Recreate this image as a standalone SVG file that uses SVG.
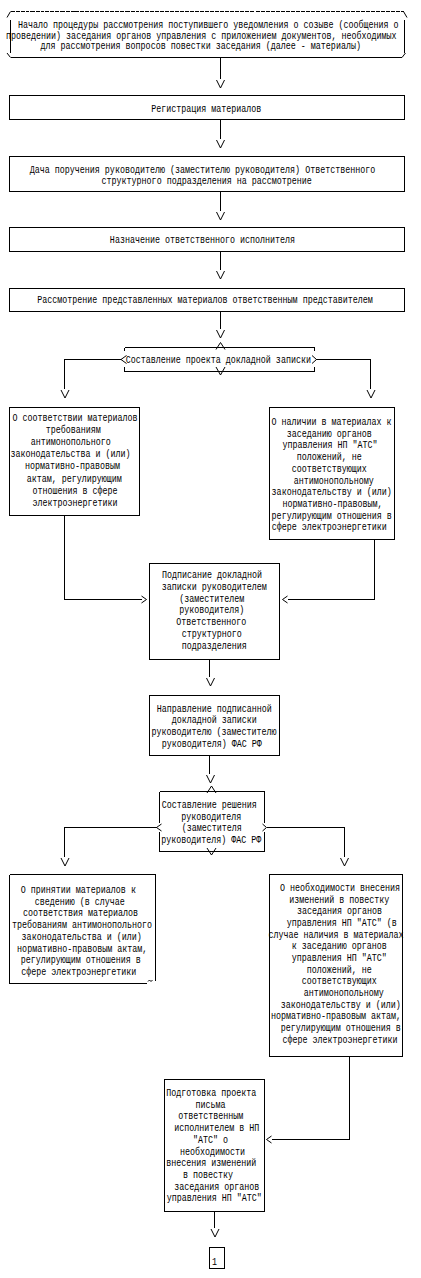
<svg xmlns="http://www.w3.org/2000/svg" width="421" height="1278" viewBox="0 0 421 1278">
<style>
.ln{fill:none;stroke:#000;stroke-width:1;shape-rendering:crispEdges}
.ar{fill:none;stroke:#000;stroke-width:1}
.bx{fill:#fff;stroke:#000;stroke-width:1;shape-rendering:crispEdges}
text{font-family:"Liberation Mono","DejaVu Sans Mono",monospace;font-size:11px;fill:#000;text-anchor:middle}
</style>
<rect width="421" height="1278" fill="#fff"/>
<g id="connectors">
<path class="ln" d="M220.5,57.5V79M220.5,119.5V139M220.5,191.5V211M220.5,251.5V270M220.5,311.5V329"/>
<path class="ln" d="M121,359.5H64.5V389M316,359.5H370.5V389"/>
<path class="ln" d="M64.5,515.5V599.5H141.5M374.5,539.5V599.5H287.5"/>
<path class="ln" d="M209.5,659.5V677M209.5,755.5V774"/>
<path class="ln" d="M156.5,827.5H64.5V857M267,827.5H344.5V857"/>
<path class="ln" d="M349.5,1056.5V1139.5H271.5M214.5,1211.5V1228"/>
<path class="ar" d="M216.5,80L220.5,88L224.5,80M216.5,140L220.5,148L224.5,140M216.5,212L220.5,220L224.5,212M216.5,271L220.5,279L224.5,271M216.5,330L220.5,338L224.5,330"/>
<path class="ar" d="M61,390L65,398L69,390M367,390L371,398L375,390"/>
<path class="ar" d="M141.5,596L146.5,599.5L141.5,603M287.5,596L282.5,599.5L287.5,603"/>
<path class="ar" d="M206.5,678L210.5,686L214.5,678M206.5,775L210.5,783L214.5,775"/>
<path class="ar" d="M61,858L65,866L69,858M340.5,858L344.5,866L348.5,858"/>
<path class="ar" d="M271.5,1136L266.5,1139.5L271.5,1143M211,1229L215,1237L219,1229"/>
</g>
<g id="start">
<path class="ln" d="M10.5,11.5H404" stroke-dasharray="4 1"/>
<path class="ln" d="M10.5,20V53M404.5,20V53M10.5,57.5H402"/>
<path class="ar" d="M7,17.5L10.5,11.5M403.5,11.5L407,17.5M7,53L10.5,57.5M402,57.5L405.5,53"/>
<text transform="matrix(.76 0 0 1 208.3 28.3)">Начало процедуры рассмотрения поступившего уведомления о созыве (сообщения о</text>
<text transform="matrix(.76 0 0 1 201.3 38.8)">проведении) заседания органов управления с приложением документов, необходимых</text>
<text transform="matrix(.76 0 0 1 200.7 49.3)">для рассмотрения вопросов повестки заседания (далее - материалы)</text>
</g>
<g id="reg">
<rect class="bx" x="9.5" y="95.5" width="395" height="24"/>
<text transform="matrix(.76 0 0 1 206.2 112)">Регистрация материалов</text>
</g>
<g id="assign">
<rect class="bx" x="9.5" y="156.5" width="395" height="35"/>
<text transform="matrix(.76 0 0 1 202.5 173.3)">Дача поручения руководителю (заместителю руководителя) Ответственного</text>
<text transform="matrix(.76 0 0 1 206.7 184)">структурного подразделения на рассмотрение</text>
</g>
<g id="appoint">
<rect class="bx" x="9.5" y="227.5" width="395" height="24"/>
<text transform="matrix(.76 0 0 1 202.5 243.3)">Назначение ответственного исполнителя</text>
</g>
<g id="review">
<rect class="bx" x="9.5" y="288.5" width="395" height="23"/>
<text transform="matrix(.76 0 0 1 205 303.3)">Рассмотрение представленных материалов ответственным представителем</text>
</g>
<g id="draft">
<path class="ln" d="M124.5,347.5H314.5M124.5,371.5H314.5M124.5,347.5V351M124.5,367V371.5M314.5,347.5V351M314.5,367V371.5"/>
<path class="ar" d="M216,349.5L220.5,342.5L225,349.5M216,367L220.5,375L225,367M126.5,355.5L121,359.5L126.5,363.5M312,355.5L316.5,359.5L312,363.5"/>
<text transform="matrix(.76 0 0 1 218.3 362.7)">Составление проекта докладной записки</text>
</g>
<g id="conform">
<rect class="bx" x="9.5" y="407.5" width="130" height="108"/>
<text transform="matrix(.76 0 0 1 75 421)">О соответствии материалов</text>
<text transform="matrix(.76 0 0 1 73.3 433.1)">требованиям</text>
<text transform="matrix(.76 0 0 1 70.8 445.2)">антимонопольного</text>
<text transform="matrix(.76 0 0 1 70.5 457.3)">законодательства и (или)</text>
<text transform="matrix(.76 0 0 1 72.5 469.4)">нормативно-правовым</text>
<text transform="matrix(.76 0 0 1 74.2 481.5)">актам, регулирующим</text>
<text transform="matrix(.76 0 0 1 75 493.6)">отношения в сфере</text>
<text transform="matrix(.76 0 0 1 75 505.7)">электроэнергетики</text>
</g>
<g id="nonconform">
<rect class="bx" x="269.5" y="407.5" width="125" height="132"/>
<text transform="matrix(.76 0 0 1 331.5 425)">О наличии в материалах к</text>
<text transform="matrix(.76 0 0 1 329.2 436.7)">заседанию органов</text>
<text transform="matrix(.76 0 0 1 330 448.4)">управления НП "АТС"</text>
<text transform="matrix(.76 0 0 1 329.2 460.1)">положений, не</text>
<text transform="matrix(.76 0 0 1 329.2 471.8)">соответствующих</text>
<text transform="matrix(.76 0 0 1 333.8 483.5)">антимонопольному</text>
<text transform="matrix(.76 0 0 1 331.7 495.2)">законодательству и (или)</text>
<text transform="matrix(.76 0 0 1 332.5 506.9)">нормативно-правовым,</text>
<text transform="matrix(.76 0 0 1 331.7 518.6)">регулирующим отношения в</text>
<text transform="matrix(.76 0 0 1 329.2 530.3)">сфере электроэнергетики</text>
</g>
<g id="sign">
<rect class="bx" x="149.5" y="563.5" width="130" height="96"/>
<text transform="matrix(.76 0 0 1 212 578)">Подписание докладной</text>
<text transform="matrix(.76 0 0 1 214.2 589.8)">записки руководителем</text>
<text transform="matrix(.76 0 0 1 211.7 601.6)">(заместителем</text>
<text transform="matrix(.76 0 0 1 211.7 613.4)">руководителя)</text>
<text transform="matrix(.76 0 0 1 211.3 625.2)">Ответственного</text>
<text transform="matrix(.76 0 0 1 211.7 637)">структурного</text>
<text transform="matrix(.76 0 0 1 214.2 648.8)">подразделения</text>
</g>
<g id="send">
<rect class="bx" x="149.5" y="695.5" width="130" height="60"/>
<text transform="matrix(.76 0 0 1 214.2 711.7)">Направление подписанной</text>
<text transform="matrix(.76 0 0 1 214.2 723.4)">докладной записки</text>
<text transform="matrix(.76 0 0 1 214 735.1)">руководителю (заместителю</text>
<text transform="matrix(.76 0 0 1 211.7 746.8)">руководителя) ФАС РФ</text>
</g>
<g id="decision">
<path class="ln" d="M159.5,791.5H264.5M159.5,851.5H264.5M159.5,791.5V823M159.5,832V851.5M264.5,791.5V823M264.5,832V851.5"/>
<path class="ar" d="M207,793L211.5,786L216,793M207,848L211.5,855L216,848M161.5,824L156.5,827.5L161.5,831M262.5,824L266.5,827.5L262.5,831"/>
<text transform="matrix(.76 0 0 1 209.2 808.3)">Составление решения</text>
<text transform="matrix(.76 0 0 1 211.3 819.8)">руководителя</text>
<text transform="matrix(.76 0 0 1 211.7 831.3)">(заместителя</text>
<text transform="matrix(.76 0 0 1 211.3 842.8)">руководителя) ФАС РФ</text>
</g>
<g id="accept">
<path class="ln" d="M9.5,874.5H155.5V981M9.5,874.5V983.5H147"/>
<path class="ar" d="M148,981.5L149.5,980L151,981.5L152.5,980"/>
<text transform="matrix(.76 0 0 1 78.3 892.7)">О принятии материалов к</text>
<text transform="matrix(.76 0 0 1 79.7 904.5)">сведению (в случае</text>
<text transform="matrix(.76 0 0 1 80.5 916.2)">соответствия материалов</text>
<text transform="matrix(.76 0 0 1 82 928)">требованиям антимонопольного</text>
<text transform="matrix(.76 0 0 1 81.7 939.7)">законодательства и (или)</text>
<text transform="matrix(.76 0 0 1 82.2 951.5)">нормативно-правовым актам,</text>
<text transform="matrix(.76 0 0 1 80.8 963.3)">регулирующим отношения в</text>
<text transform="matrix(.76 0 0 1 78.7 975)">сфере электроэнергетики</text>
</g>
<g id="changes">
<rect class="bx" x="269.5" y="874.5" width="133" height="182"/>
<text transform="matrix(.76 0 0 1 340 891)">О необходимости внесения</text>
<text transform="matrix(.76 0 0 1 339.2 902.7)">изменений в повестку</text>
<text transform="matrix(.76 0 0 1 339.5 914.3)">заседания органов</text>
<text transform="matrix(.76 0 0 1 341.7 926)">управления НП "АТС" (в</text>
<text transform="matrix(.76 0 0 1 336 937.7)">случае наличия в материалах</text>
<text transform="matrix(.76 0 0 1 339.2 949.4)">к заседанию органов</text>
<text transform="matrix(.76 0 0 1 339.2 961)">управления НП "АТС"</text>
<text transform="matrix(.76 0 0 1 339.2 972.7)">положений, не</text>
<text transform="matrix(.76 0 0 1 339.2 984.4)">соответствующих</text>
<text transform="matrix(.76 0 0 1 343.8 996)">антимонопольному</text>
<text transform="matrix(.76 0 0 1 340.8 1007.7)">законодательству и (или)</text>
<text transform="matrix(.76 0 0 1 336 1019.4)">нормативно-правовым актам,</text>
<text transform="matrix(.76 0 0 1 340.8 1031)">регулирующим отношения в</text>
<text transform="matrix(.76 0 0 1 340 1042.7)">сфере электроэнергетики</text>
</g>
<g id="letter">
<rect class="bx" x="164.5" y="1079.5" width="100" height="132"/>
<text transform="matrix(.76 0 0 1 211.3 1096)">Подготовка проекта</text>
<text transform="matrix(.76 0 0 1 210.5 1107.7)">письма</text>
<text transform="matrix(.76 0 0 1 210.8 1119.4)">ответственным</text>
<text transform="matrix(.76 0 0 1 216.7 1131.1)">исполнителем в НП</text>
<text transform="matrix(.76 0 0 1 210.5 1142.8)">"АТС" о</text>
<text transform="matrix(.76 0 0 1 212.5 1154.5)">необходимости</text>
<text transform="matrix(.76 0 0 1 211.2 1166.2)">внесения изменений</text>
<text transform="matrix(.76 0 0 1 208 1177.9)">в повестку</text>
<text transform="matrix(.76 0 0 1 216.7 1189.6)">заседания органов</text>
<text transform="matrix(.76 0 0 1 214.2 1201.3)">управления НП "АТС"</text>
</g>
<g id="end">
<rect class="bx" x="209.5" y="1247.5" width="15" height="21"/>
<text transform="matrix(.76 0 0 1 214.5 1265)">1</text>
</g>
</svg>
